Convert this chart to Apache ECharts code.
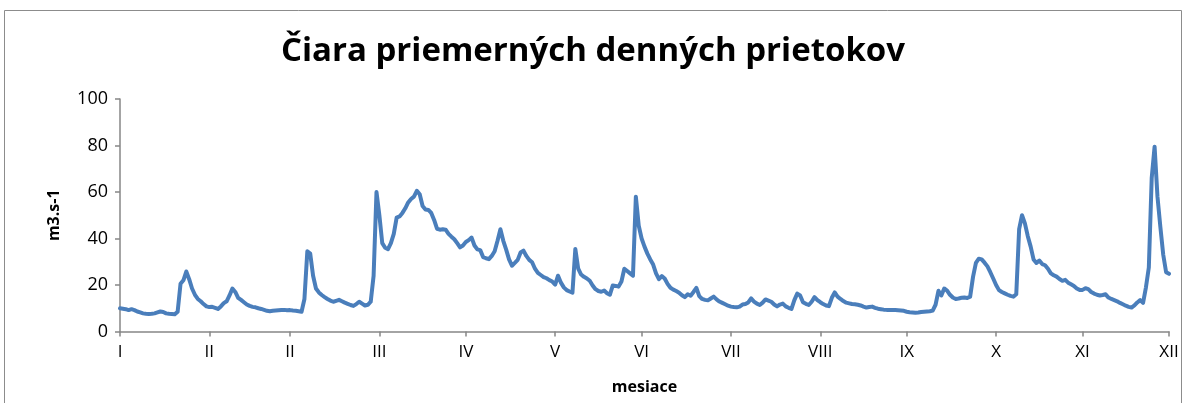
<!DOCTYPE html>
<html>
<head>
<meta charset="utf-8">
<script src="https://cdn.jsdelivr.net/npm/echarts@6/dist/echarts.min.js"></script>
<style>
  html, body { margin: 0; padding: 0; background: #fff; }
  #chart { width: 1186px; height: 403px; }
</style>
</head>
<body>
<div id="chart"></div>
<script>
// priemerné denné prietoky (m3.s-1), po mesiacoch
const jan = [10.0, 9.8, 9.6, 9.2, 9.6, 9.2, 8.6, 8.2, 7.8, 7.6, 7.5, 7.6, 7.8, 8.2, 8.6, 8.4,
  7.8, 7.6, 7.5, 7.4, 8.5, 20.5, 22.0, 25.8, 22.5, 18.5, 15.8, 14.0, 13.0, 11.8, 10.8];
const feb = [10.5, 10.6, 10.2, 9.7, 10.8, 12.2, 13.0, 15.5, 18.5, 17.0, 14.5, 13.6, 12.6, 11.6,
  11.0, 10.6, 10.4, 10.0, 9.7, 9.3, 8.9, 8.7, 8.9, 9.0, 9.1, 9.2, 9.3, 9.1];
const mar = [9.2, 9.0, 8.9, 8.7, 8.5, 14.0, 34.5, 33.5, 24.0, 18.5, 16.8, 15.7, 14.8, 14.0, 13.3,
  12.8, 13.2, 13.6, 13.0, 12.4, 11.9, 11.4, 11.0, 11.8, 12.8, 12.0, 11.2, 11.5, 12.8, 24.0, 60.0];
const apr = [50.0, 38.0, 36.0, 35.4, 38.0, 42.0, 49.0, 49.5, 51.0, 53.0, 55.5, 57.0, 58.0, 60.5,
  59.0, 54.0, 52.5, 52.3, 51.0, 48.0, 44.2, 43.8, 44.0, 43.8, 42.0, 40.8, 39.7, 38.0, 36.2, 37.0];
const maj = [38.5, 39.3, 40.4, 37.0, 35.3, 35.0, 32.0, 31.5, 31.1, 32.5, 34.5, 39.0, 44.0, 39.0,
  35.2, 31.0, 28.3, 29.5, 30.8, 34.0, 34.8, 32.5, 30.8, 29.8, 27.0, 25.2, 24.3, 23.4, 22.9, 22.1, 21.5];
const jun = [20.2, 24.0, 21.0, 19.0, 17.8, 17.2, 16.7, 35.5, 27.0, 24.5, 23.5, 22.8, 21.8, 19.8,
  18.2, 17.4, 17.1, 17.6, 16.5, 15.8, 19.8, 19.6, 19.3, 21.5, 27.0, 26.0, 25.0, 24.0, 58.0, 45.5];
const jul = [40.0, 36.5, 33.5, 31.0, 28.8, 25.0, 22.5, 23.8, 22.8, 20.5, 18.8, 18.0, 17.4, 16.7,
  15.6, 14.8, 16.0, 15.4, 17.0, 18.8, 15.2, 14.0, 13.6, 13.4, 14.2, 15.0, 13.8, 12.9, 12.3, 11.7, 11.1];
const aug = [10.7, 10.5, 10.4, 10.7, 11.6, 11.8, 12.5, 14.2, 12.9, 12.0, 11.4, 12.4, 13.8, 13.3,
  12.8, 11.6, 10.8, 11.6, 12.0, 10.8, 10.2, 9.7, 13.5, 16.3, 15.5, 12.6, 11.9, 11.4, 12.8, 14.8, 13.5];
const sep = [12.6, 11.8, 11.2, 10.9, 14.5, 16.8, 15.0, 14.0, 13.1, 12.4, 12.1, 11.8, 11.7, 11.5,
  11.2, 10.7, 10.3, 10.5, 10.7, 10.2, 9.8, 9.6, 9.4, 9.3, 9.3, 9.3, 9.2, 9.1, 9.0, 8.9];
const okt = [8.5, 8.3, 8.2, 8.1, 8.2, 8.4, 8.5, 8.6, 8.7, 9.0, 11.5, 17.5, 15.5, 18.5, 17.6, 15.8,
  14.6, 14.0, 14.2, 14.5, 14.6, 14.4, 15.0, 23.5, 29.5, 31.3, 31.0, 29.6, 28.0, 25.5, 22.8];
const nov = [20.0, 17.8, 17.0, 16.4, 15.8, 15.3, 15.0, 16.0, 44.0, 50.0, 46.5, 41.0, 36.5, 31.0,
  29.5, 30.5, 29.0, 28.5, 27.0, 25.0, 24.2, 23.6, 22.6, 21.8, 22.2, 21.0, 20.3, 19.6, 18.5, 17.9];
const dec = [17.9, 18.6, 18.2, 17.0, 16.3, 15.8, 15.5, 15.7, 16.0, 14.6, 14.0, 13.5, 13.0, 12.3,
  11.7, 11.1, 10.6, 10.3, 11.2, 12.5, 13.5, 12.3, 19.0, 27.5, 66.0, 79.5, 58.0, 45.0, 33.0, 25.5, 24.8];

// popisy osi x (tak ako v origináli) a dni, na ktorých stoja
const monthLabels = ['I', 'II', 'II', 'III', 'IV', 'V', 'VI', 'VII', 'VIII', 'IX', 'X', 'XI', 'XII'];
const labelDays = [0, 31, 59, 90, 120, 151, 181, 212, 243, 273, 304, 334, 364];
const yTicks = [0, 20, 40, 60, 80, 100];

const flows = [].concat(jan, feb, mar, apr, maj, jun, jul, aug, sep, okt, nov, dec);
const days = flows.map((v, i) => String(i));

const chart = echarts.init(document.getElementById('chart'));
const axisColor = '#868686';
const font = '"Open Sans", "Liberation Sans", sans-serif';
const showDay = (idx) => labelDays.indexOf(idx) >= 0;

chart.setOption({
  backgroundColor: '#fff',
  animation: false,
  graphic: [{
    type: 'rect',
    shape: { x: 4.5, y: 10.5, width: 1177, height: 400 },
    style: { fill: 'none', stroke: '#8c8c8c', lineWidth: 1 }
  }],
  title: {
    text: 'Čiara priemerných denných prietokov',
    left: 'center',
    top: 30,
    textStyle: { fontFamily: font, fontWeight: 'bold', fontSize: 33, color: '#000' }
  },
  grid: { left: 120, right: 17, top: 99, bottom: 71.5, containLabel: false },
  xAxis: {
    type: 'category',
    data: days,
    boundaryGap: false,
    name: 'mesiace',
    nameLocation: 'middle',
    nameGap: 48,
    nameTextStyle: { fontFamily: font, fontWeight: 'bold', fontSize: 16, color: '#000' },
    axisLine: { lineStyle: { color: axisColor, width: 1.5 } },
    axisTick: { show: true, length: 5, interval: showDay, lineStyle: { color: axisColor, width: 1.5 } },
    axisLabel: {
      interval: showDay,
      margin: 12,
      fontFamily: font, fontSize: 17, color: '#000',
      formatter: (val) => monthLabels[labelDays.indexOf(Number(val))]
    },
    splitLine: { show: false }
  },
  yAxis: {
    type: 'value',
    min: yTicks[0],
    max: yTicks[yTicks.length - 1],
    interval: 20,
    name: 'm3.s-1',
    nameLocation: 'middle',
    nameGap: 58,
    nameTextStyle: { fontFamily: font, fontWeight: 'bold', fontSize: 16, color: '#000' },
    axisLine: { show: true, lineStyle: { color: axisColor, width: 1.5 } },
    axisTick: { show: true, length: 5, lineStyle: { color: axisColor, width: 1.5 } },
    axisLabel: { margin: 12, fontFamily: font, fontSize: 18, color: '#000' },
    splitLine: { show: false }
  },
  series: [{
    name: 'prietok',
    type: 'line',
    data: flows,
    showSymbol: false,
    symbol: 'none',
    lineStyle: { color: '#4a7ebb', width: 4, join: 'round', cap: 'round' },
    itemStyle: { color: '#4a7ebb' }
  }]
});
</script>
</body>
</html>
